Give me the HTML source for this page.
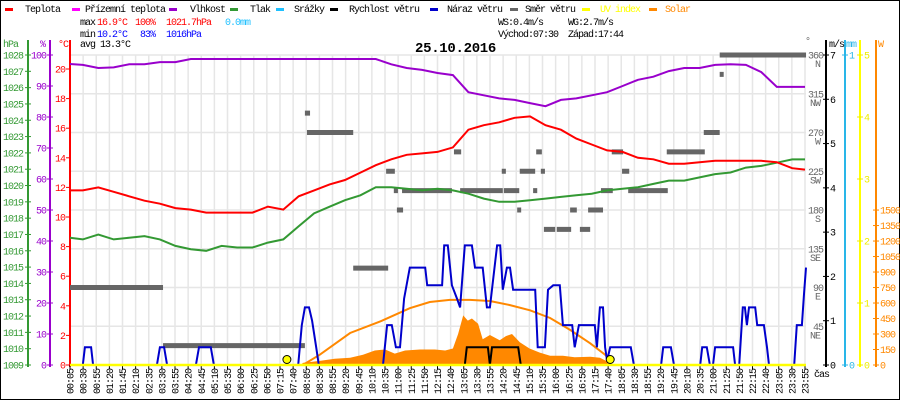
<!DOCTYPE html>
<html><head><meta charset="utf-8">
<style>
html,body{margin:0;padding:0;background:#fff;}
#wrap{position:relative;width:900px;height:400px;overflow:hidden;}
svg text{font-family:"Liberation Mono",monospace;font-size:10px;letter-spacing:-1px;}
</style></head>
<body>
<div id="wrap">
<svg id="chart" width="900" height="400" viewBox="0 0 900 400" xmlns="http://www.w3.org/2000/svg">
<rect x="0.5" y="0.5" width="899" height="399" fill="#fff" stroke="#000" stroke-width="1"/>
<g id="grid"></g>
<g id="legend">
 <rect x="5" y="8" width="8" height="3" fill="#f00"/><text x="25" y="12">Teplota</text>
 <rect x="72" y="8" width="8" height="3" fill="#f0f"/><text x="85" y="12">Přízemní teplota</text>
 <rect x="169" y="8" width="8" height="3" fill="#90c"/><text x="190" y="12">Vlhkost</text>
 <rect x="230" y="8" width="8" height="3" fill="#393"/><text x="250" y="12">Tlak</text>
 <rect x="276" y="8" width="8" height="3" fill="#1ec0ff"/><text x="294" y="12">Srážky</text>
 <rect x="330" y="8" width="8" height="3" fill="#000"/><text x="349" y="12">Rychlost větru</text>
 <rect x="430" y="8" width="8" height="3" fill="#00c"/><text x="447" y="12">Náraz větru</text>
 <rect x="510" y="8" width="8" height="3" fill="#666"/><text x="525" y="12">Směr větru</text>
 <rect x="582" y="8" width="8" height="3" fill="#ff0"/><text x="600" y="12" fill="#ff0">UV index</text>
 <rect x="649" y="8" width="8" height="3" fill="#f80"/><text x="665" y="12" fill="#f80">Solar</text>
</g>
<g id="stats">
 <text x="80" y="25">max</text><text x="97" y="25" fill="#f00">16.9°C</text><text x="135" y="25" fill="#f00">100%</text><text x="166" y="25" fill="#f00">1021.7hPa</text><text x="225" y="25" fill="#1ec0ff">0.0mm</text>
 <text x="80" y="37">min</text><text x="97" y="37" fill="#00f">10.2°C</text><text x="140" y="37" fill="#00f">83%</text><text x="166" y="37" fill="#00f">1016hPa</text>
 <text x="80" y="47">avg 13.3°C</text>
 <text x="498" y="25">WS:0.4m/s</text><text x="568" y="25">WG:2.7m/s</text>
 <text x="498" y="37">Východ:07:30</text><text x="568" y="37">Západ:17:44</text>
</g>
<text x="415" y="52" style="font-size:14px;font-weight:bold;letter-spacing:-0.3px">25.10.2016</text>
<g id="axes"></g>
<g id="marks"></g>
</svg>
</div>
<script>
// ---- data ----
const times = [5,30,60,90,120,150,180,210,240,270,300,330,360,390,420,450,480,510,540,570,600,630,660,690,720,750,780,810,840,870,900,930,960,990,1020,1050,1080,1110,1140,1170,1200,1230,1260,1290,1320,1350,1380,1410,1435];
const tempC = [11.8,11.8,12.0,11.7,11.4,11.1,10.9,10.6,10.5,10.3,10.3,10.3,10.3,10.7,10.5,11.4,11.8,12.2,12.5,13.0,13.5,13.9,14.2,14.3,14.4,14.7,15.9,16.2,16.4,16.7,16.8,16.2,15.9,15.3,14.9,14.5,14.4,14.0,13.9,13.6,13.6,13.7,13.8,13.8,13.8,13.8,13.7,13.3,13.2];
const humidity = [97.1,96.8,95.8,96.0,97.0,97.0,97.7,97.7,98.7,98.7,98.7,98.7,98.7,98.7,98.7,98.7,98.7,98.7,98.7,98.7,98.7,97.0,95.8,95.2,94.2,93.5,88.0,87.0,86.0,85.5,84.5,83.5,85.5,86.0,87.0,88.0,90.0,92.0,93.0,94.8,95.8,95.8,96.8,97.0,96.8,94.5,89.7,89.7,89.7];
const pressure = [1016.8,1016.7,1017.0,1016.7,1016.8,1016.9,1016.7,1016.3,1016.1,1016.0,1016.3,1016.2,1016.2,1016.5,1016.7,1017.5,1018.3,1018.7,1019.1,1019.4,1019.9,1019.9,1019.8,1019.7,1019.8,1019.7,1019.5,1019.2,1019.0,1019.0,1019.1,1019.2,1019.3,1019.4,1019.5,1019.7,1019.8,1019.9,1020.1,1020.3,1020.3,1020.5,1020.7,1020.8,1021.1,1021.2,1021.4,1021.6,1021.6];
const gustTimes = [5,30,34,46,50,174,180,188,194,250,256,279,285,449,456,462,470,476,484,489,614,622,631,639,647,655,666,696,700,729,733,740,748,758,764,773,787,793,808,816,822,836,842,847,855,861,867,910,915,929,935,945,958,964,982,987,995,1026,1030,1036,1042,1046,1050,1056,1096,1102,1155,1159,1174,1180,1231,1235,1244,1250,1256,1260,1295,1299,1307,1314,1318,1322,1326,1338,1342,1355,1361,1365,1414,1419,1429,1433,1437];
const gustVals = [0,0,0.4,0.4,0,0,0.4,0.4,0,0,0.4,0.4,0,0,0.9,1.3,1.3,1.0,0.4,0,0,0.9,0.9,0.4,0.4,1.5,2.2,2.2,1.8,1.8,2.7,2.7,1.8,1.5,1.3,2.7,2.7,2.2,2.2,1.3,1.3,2.7,2.7,1.7,2.2,2.2,1.7,1.7,0.4,0.4,1.7,1.8,1.8,0.9,0.9,0.4,0.9,0.9,0.4,1.3,1.3,0.4,0.1,0.4,0.4,0,0,0.4,0.4,0,0,0.4,0.4,0,0,0.4,0.4,0,0,1.3,1.3,0.9,1.3,1.3,0.9,0.9,0.4,0,0,0.9,0.9,1.6,2.2];
const speedTimes = [5,773,777,818,822,826,877,882,1437];
const speedVals = [0,0,0.4,0.4,0,0.4,0.4,0,0];
const solarTimes = [455,458,491,520,550,575,598,618,637,657,686,715,735,750,760,770,779,787,799,808,822,841,853,865,880,899,919,939,964,987,1017,1036,1052,1059];
const solarVals = [0,20,40,60,70,100,140,150,110,140,150,150,140,160,300,480,430,450,400,250,290,240,280,300,220,160,120,90,90,75,80,70,30,0];
const solarMaxTimes = [458,491,550,608,666,705,744,783,822,861,900,939,978,1017,1046,1059];
const solarMaxVals = [0,100,310,420,550,610,630,630,620,580,530,455,340,210,100,30];
const dirStart = [5,186,462,466,556,620,635,641,651,752,764,849,845,880,921,906,875,912,927,952,997,978,1013,1038,1059,1079,1091,1166,1238,1269,1269];
const dirEnd   = [186,462,472,556,624,637,643,653,748,766,847,879,853,910,929,914,882,923,949,980,1017,991,1042,1061,1081,1093,1168,1240,1269,1437,1275];
const dirDeg   = [90,22.5,292.5,270,112.5,225,202.5,180,202.5,247.5,202.5,202.5,225,225,225,202.5,180,247.5,157.5,157.5,157.5,180,180,202.5,247.5,225,202.5,247.5,270,360,337.5];
const sunEvents = [427,1056];
const timeLabels = ["00:05","00:30","00:55","01:20","01:45","02:10","02:35","03:30","03:55","04:20","04:45","05:10","05:35","06:00","06:25","06:50","07:15","07:40","08:05","08:30","08:55","09:20","09:45","10:10","10:35","11:00","11:25","11:50","12:15","12:40","13:05","13:30","13:55","14:20","14:45","15:10","15:35","16:00","16:25","16:50","17:15","17:40","18:05","18:30","18:55","19:20","19:45","20:10","20:35","21:00","21:25","21:50","22:15","22:40","23:05","23:30","23:55"];
const hPaTicks = [1009,1010,1011,1012,1013,1014,1015,1016,1017,1018,1019,1020,1021,1022,1023,1024,1025,1026,1027,1028];
const humTicks = [0,10,20,30,40,50,60,70,80,90,100];
const tempTicks = [0,2,4,6,8,10,12,14,16,18,20];
const dirTicks = [45,90,135,180,225,270,315,360];
const dirNames = ["NE","E","SE","S","SW","W","NW","N"];
const windTicks = [0,1,2,3,4,5,6,7];
const uvTicks = [0,1,2,3,4,5];
const solarTicks = [0,150,300,450,600,750,900,1050,1200,1350,1500];

// ---- scales ----
const Y0 = 365, YT = 55, H = Y0 - YT;
const xT = m => 70 + (m - 5) * 0.514;
const xIdx = i => 70 + i * 13.125;
const yTemp = v => 365 - v * 14.8;
const yHum = v => Y0 - v / 100 * H;
const yP = v => Y0 - (v - 1009) * 16.316;
const yWind = v => Y0 - v / 7 * H;
const yDir = v => Y0 - v / 360 * H;
const yUV = v => Y0 - v / 5 * H;
const ySol = v => Y0 - v * 0.1033;

const NS = "http://www.w3.org/2000/svg";
function mk(tag, attrs, parent, txt) {
  const e = document.createElementNS(NS, tag);
  for (const k in attrs) e.setAttribute(k, attrs[k]);
  if (txt !== undefined) e.textContent = txt;
  parent.appendChild(e);
  return e;
}
const grid = document.getElementById('grid');
const axes = document.getElementById('axes');
const marks = document.getElementById('marks');

// grid
for (let i = 0; i < timeLabels.length; i++) {
  const x = xIdx(i);
  const l = mk('line', {x1: x, x2: x, y1: YT, y2: Y0, stroke: '#e6e6e6', 'stroke-width': 1.5}, grid);
  
  
}
for (let k = 1; k <= 8; k++) {
  const y = Y0 - k * H / 8;
  const l = mk('line', {x1: 70, x2: 806, y1: y, y2: y, stroke: '#e6e6e6', 'stroke-width': 1.5}, grid);
  
  
}

// left axes
function vAxis(x, color, name) {
  const l = mk('line', {x1: x, x2: x, y1: YT - 15, y2: Y0 + 2, stroke: color, 'stroke-width': 2}, axes);
  
  
}
vAxis(28, '#393', 'hpa-axis');
vAxis(50, '#90c', 'humidity-axis');
vAxis(70, '#f00', 'temp-axis');
let t;
t = mk('text', {x: 3, y: 47, fill: '#393'}, axes, 'hPa');  
t = mk('text', {x: 40, y: 47, fill: '#90c'}, axes, '%');  
t = mk('text', {x: 58, y: 47, fill: '#f00'}, axes, '°C');  
hPaTicks.forEach(v => {
  const y = yP(v);
  mk('line', {x1: 25, x2: 31, y1: y, y2: y, stroke: '#393'}, axes);
  const e = mk('text', {x: 23, y: y + 3.5, fill: '#393', 'text-anchor': 'end'}, axes, String(v));
  
  
});
humTicks.forEach(v => {
  const y = yHum(v);
  mk('line', {x1: 47, x2: 53, y1: y, y2: y, stroke: '#90c'}, axes);
  const e = mk('text', {x: 46, y: y + 3.5, fill: '#90c', 'text-anchor': 'end'}, axes, String(v));
  
  
});
tempTicks.forEach(v => {
  const y = yTemp(v);
  mk('line', {x1: 66, x2: 70, y1: y, y2: y, stroke: '#f00'}, axes);
  const e = mk('text', {x: 65, y: y + 3.5, fill: '#f00', 'text-anchor': 'end'}, axes, String(v));
  
  
});

// right axes
vAxis(826, '#000', 'wind-speed-axis');
vAxis(845, '#29b6e8', 'rain-axis');
vAxis(860, '#ff0', 'uv-axis');
vAxis(876, '#f80', 'solar-axis');
t = mk('text', {x: 805, y: 44, fill: '#666'}, axes, '°');  
t = mk('text', {x: 829, y: 47}, axes, 'm/s');  
t = mk('text', {x: 846, y: 47, fill: '#29b6e8'}, axes, 'mm');  
t = mk('text', {x: 878, y: 47, fill: '#f80'}, axes, 'W');  
dirTicks.forEach((v, i) => {
  const y = yDir(v);
  const e = mk('text', {x: 823, y: y + 3.5, fill: '#666', 'text-anchor': 'end'}, axes, String(v));
  
  
  const n = mk('text', {x: 820, y: y + 12, fill: '#666', 'text-anchor': 'end'}, axes, dirNames[i]);
  
  
});
windTicks.forEach(v => {
  const y = yWind(v);
  mk('line', {x1: 823, x2: 829, y1: y, y2: y, stroke: '#000'}, axes);
  const e = mk('text', {x: 830, y: y + 3.5}, axes, String(v));
  
  
});
[0, 1].forEach(v => {
  const y = Y0 - v * H;
  mk('line', {x1: 842, x2: 848, y1: y, y2: y, stroke: '#29b6e8'}, axes);
  const e = mk('text', {x: 849, y: y + 3.5, fill: '#29b6e8'}, axes, String(v));
  
  
});
uvTicks.forEach(v => {
  const y = yUV(v);
  mk('line', {x1: 857, x2: 863, y1: y, y2: y, stroke: '#ee0'}, axes);
  const e = mk('text', {x: 864, y: y + 3.5, fill: '#ee0'}, axes, String(v));
  
  
});
solarTicks.forEach(v => {
  const y = ySol(v);
  mk('line', {x1: 873, x2: 879, y1: y, y2: y, stroke: '#f80'}, axes);
  const e = mk('text', {x: 880, y: y + 3.5, fill: '#f80'}, axes, String(v));
  
  
});

// x labels
timeLabels.forEach((lab, i) => {
  const x = xIdx(i);
  mk('line', {x1: x, x2: x, y1: Y0, y2: Y0 + 4, stroke: '#000'}, axes);
  const e = mk('text', {transform: `translate(${x + 3.5},369) rotate(-90)`, 'text-anchor': 'end'}, axes, lab);
  
  
});
t = mk('text', {x: 814, y: 377}, axes, 'čas');  

// ---- marks ----
function pts(ts, vs, fy) { return ts.map((m, i) => xT(m).toFixed(1) + ',' + fy(vs[i]).toFixed(1)).join(' '); }

// solar area
const solarArea = mk('polygon', {points: xT(solarTimes[0]) + ',' + Y0 + ' ' + pts(solarTimes, solarVals, ySol) + ' ' + xT(solarTimes[solarTimes.length - 1]) + ',' + Y0, fill: '#f80'}, marks);


const solarMax = mk('polyline', {points: pts(solarMaxTimes, solarMaxVals, ySol), fill: 'none', stroke: '#f80', 'stroke-width': 2}, marks);



// wind direction bars
dirDeg.forEach((d, i) => {
  const y = yDir(d);
  const r = mk('rect', {x: xT(dirStart[i]), y: y - 2.5, width: Math.max(4, xT(dirEnd[i]) - xT(dirStart[i])), height: 5, fill: '#666'}, marks);
  
  
});

// pressure, temperature, humidity
const pl = mk('polyline', {points: pts(times, pressure, yP), fill: 'none', stroke: '#393', 'stroke-width': 2}, marks);


const tl = mk('polyline', {points: pts(times, tempC, yTemp), fill: 'none', stroke: '#f00', 'stroke-width': 2}, marks);


const hl = mk('polyline', {points: pts(times, humidity, yHum), fill: 'none', stroke: '#90c', 'stroke-width': 2}, marks);



// wind speed & gust
const sl = mk('polyline', {points: pts(speedTimes, speedVals, yWind), fill: 'none', stroke: '#000', 'stroke-width': 2}, marks);


const gl = mk('polyline', {points: pts(gustTimes, gustVals, yWind), fill: 'none', stroke: '#00c', 'stroke-width': 2}, marks);



// UV baseline
const uv = mk('line', {x1: 70, x2: 806, y1: Y0, y2: Y0, stroke: '#ff0', 'stroke-width': 2.5}, marks);



// sunrise / sunset markers
sunEvents.forEach(m => {
  const c = mk('circle', {cx: xT(m), cy: 359.5, r: 4, fill: '#ff0', stroke: '#000', 'stroke-width': 1}, marks);
  
  
});
</script>
</body></html>
